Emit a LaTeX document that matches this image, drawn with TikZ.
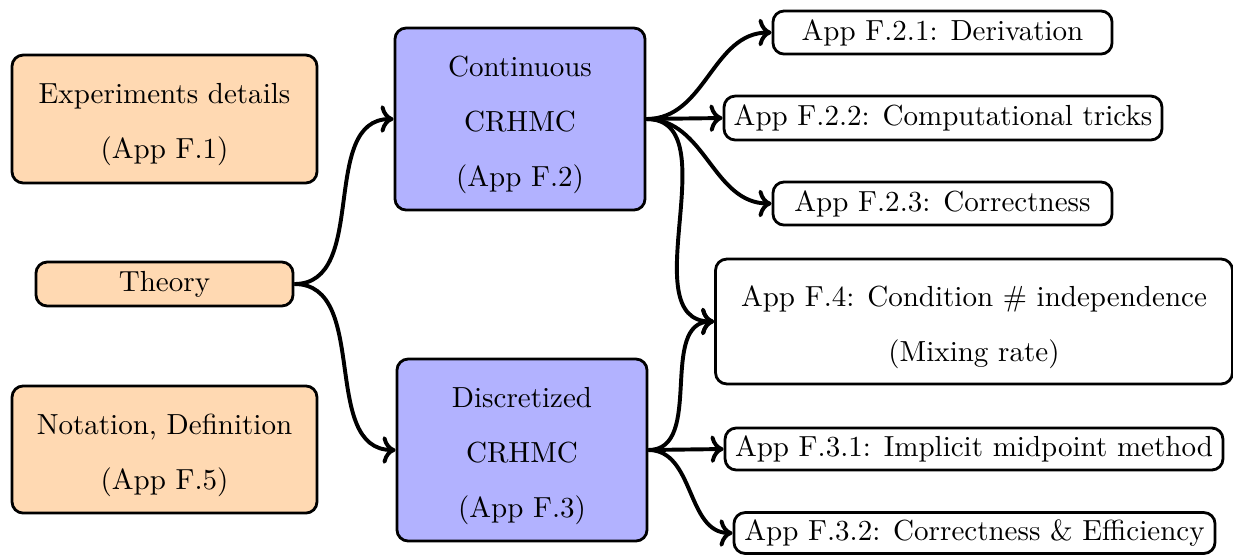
\documentclass[tikz,border=0pt]{standalone}
\usetikzlibrary{arrows.meta}
\newcommand{\tstrut}{\rule{0pt}{11.4pt}}
\begin{document}
\begin{tikzpicture}[x=0.3571pt,y=-0.3571pt,
  base/.style={draw=black, line width=1pt, rounded corners=4pt, inner sep=1.5pt, align=center,
    font=\fontsize{10.37pt}{12.44pt}\selectfont},
  orangebox/.style={base, fill=orange!30},
  bluebox/.style={base, fill=blue!30},
  whitebox/.style={base, fill=white},
  conn/.style={line width=1.4pt, ->}]
\useasboundingbox (0,0) rectangle (1233,554);
% left column
\node[orangebox, minimum width=108.9pt, minimum height=45.7pt] (exp) at (164.5,119) {\tstrut Experiments details\\[7.3pt](App F.1)};
\node[orangebox, minimum width=91.8pt, minimum height=15.7pt] (theory) at (164.5,284) {Theory};
\node[orangebox, minimum width=108.9pt, minimum height=45.4pt] (notation) at (164.5,449.5) {\tstrut Notation, Definition\\[7.3pt](App F.5)};
% middle column
\node[bluebox, minimum width=89.3pt, minimum height=65pt] (cont) at (520,119) {\tstrut Continuous\\[7.3pt]CRHMC\\[7.3pt](App F.2)};
\node[bluebox, minimum width=89.3pt, minimum height=65pt] (disc) at (522,450) {\tstrut Discretized\\[7.3pt]CRHMC\\[7.3pt](App F.3)};
% right column
\node[whitebox, minimum width=121.1pt, minimum height=15.4pt] (f21) at (942.5,32.5) {App F.2.1: Derivation};
\node[whitebox, minimum width=156.4pt, minimum height=15.7pt] (f22) at (943,118) {App F.2.2: Computational tricks};
\node[whitebox, minimum width=121.1pt, minimum height=15.4pt] (f23) at (942.5,203.5) {App F.2.3: Correctness};
\node[whitebox, minimum width=184.6pt, minimum height=44.6pt] (f4) at (974,321.5) {\tstrut App F.4: Condition \# independence\\[7.3pt](Mixing rate)};
\node[whitebox, minimum width=177.8pt, minimum height=15pt] (f31) at (974,449) {App F.3.1: Implicit midpoint method};
\node[whitebox, minimum width=171.8pt, minimum height=14.6pt] (f32) at (974.5,533) {App F.3.2: Correctness \& Efficiency};
% connectors
\draw[conn] (theory.east) to[out=0,in=180] (cont.west);
\draw[conn] (theory.east) to[out=0,in=180] (disc.west);
\draw[conn] (cont.east) to[out=0,in=180] (f21.west);
\draw[conn] (cont.east) -- (f22.west);
\draw[conn] (cont.east) to[out=0,in=180] (f23.west);
\draw[conn] (cont.east) to[out=0,in=180] (f4.west);
\draw[conn] (disc.east) to[out=0,in=180] (f4.west);
\draw[conn] (disc.east) -- (f31.west);
\draw[conn] (disc.east) to[out=0,in=180] (f32.west);
\end{tikzpicture}
\end{document}
